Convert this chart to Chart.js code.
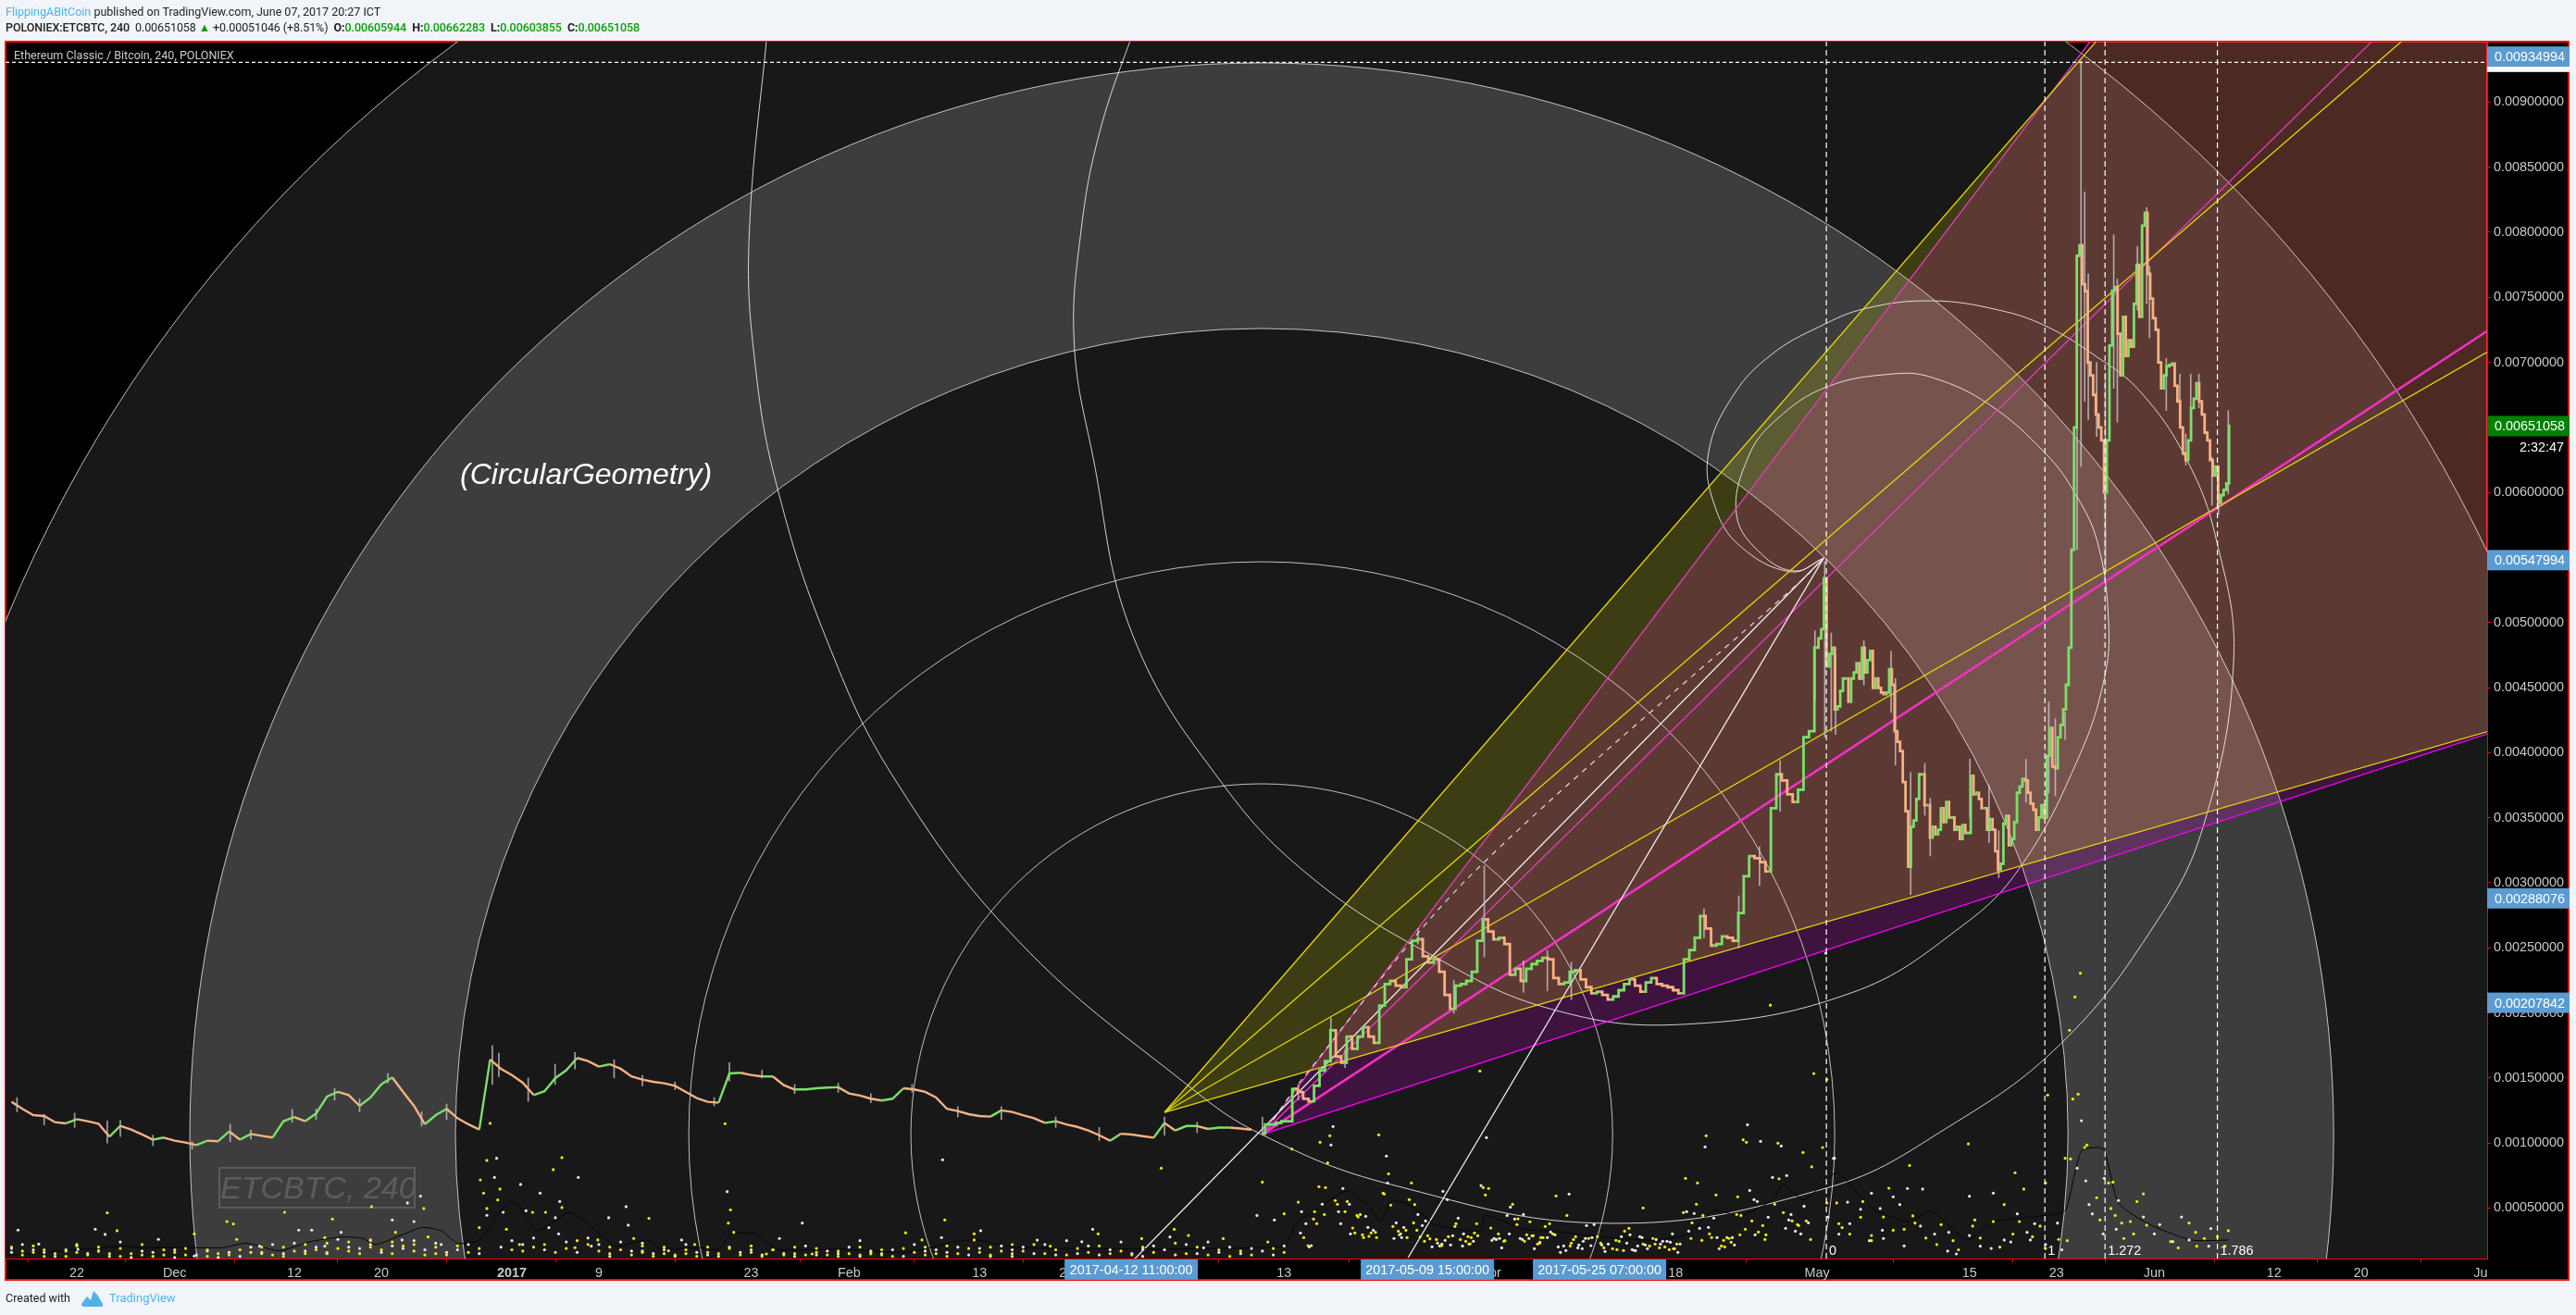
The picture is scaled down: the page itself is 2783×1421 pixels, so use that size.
<!DOCTYPE html>
<html lang="en">
<head>
<meta charset="UTF-8">
<title>ETCBTC, 240</title>
<script src="https://cdn.jsdelivr.net/npm/chart.js"></script>
<style>
    html, body { margin: 0; padding: 0; width: 2783px; height: 1421px; overflow: hidden; background: #f1f4f8; font-family: "Liberation Sans", Arial, sans-serif; }
    .abs { position: absolute; white-space: nowrap; }
    #frame { left: 5px; top: 44px; width: 2771px; height: 1340px; box-sizing: border-box; border: 2px solid #f00; background: #000; }
    canvas { position: absolute; left: 0; top: 0; }
    .head { font-family: Roboto, sans-serif; font-size: 12.5px; color: #222; }
    .blue { color: #4db3e8; }
    .grn { color: #0aa00a; }
</style>
</head>
<body>
<div id="frame" class="abs"></div>
<canvas id="graficoEtc" width="2783" height="1421"></canvas>

<div class="abs head" style="left:6px;top:5px"><span class="blue">FlippingABitCoin</span> published on TradingView.com, June 07, 2017 20:27 ICT</div>
<div class="abs head" style="left:6px;top:22px;font-weight:500;letter-spacing:-.08px">POLONIEX:ETCBTC, 240 &nbsp;<span style="font-weight:400">0.00651058 <span class="grn">&#9650;</span> +0.00051046 (+8.51%)</span> &nbsp;<b>O:</b><span class="grn">0.00605944</span> &nbsp;<b>H:</b><span class="grn">0.00662283</span> &nbsp;<b>L:</b><span class="grn">0.00603855</span> &nbsp;<b>C:</b><span class="grn">0.00651058</span></div>
<div class="abs" style="left:15px;top:52px;font:12.5px Roboto,sans-serif;color:#ccc">Ethereum Classic / Bitcoin, 240, POLONIEX</div>
<div class="abs" style="left:497px;top:494px;font:italic 32px 'Liberation Sans';color:#fff">(CircularGeometry)</div>
<div class="abs" style="left:236px;top:1261px;width:213px;height:45px;box-sizing:border-box;border:2px solid rgba(255,255,255,.16);font:italic 34px/41px 'Liberation Sans';color:rgba(255,255,255,.16);text-align:center;overflow:hidden">ETCBTC, 240</div>
<div class="abs" style="left:6px;top:1395px;font:12.5px Roboto,sans-serif;color:#222">Created with</div>
<svg class="abs" style="left:88px;top:1394px" width="24" height="18" viewBox="0 0 24 18"><path d="M0 15 L6 7 L10 11 L13 1 L17 5 L23 15 Q24 18 21 18 L3 18 Q0 18 0 15Z" fill="#4db3e8"/></svg>
<div class="abs blue" style="left:118px;top:1395px;font:13px Roboto,sans-serif">TradingView</div>

<script>
    // prices are kept in units of 0.00001 BTC, x is days since 2017-01-01
    const UNIDADE = 1e-5;

    // closes: one a day from day -46, two a day from day 69, four a day from day 120
    const fechamentosDia = [131.7,126.3,121.5,120.8,116,115.1,118.4,116.8,114.9,104.9,113.2,110.4,106.6,102.6,104.2,101.8,100.4,98.5,101.8,101.4,109,102.6,107,105.6,104.2,116.8,119.9,116.8,122.7,135.7,139.3,136.9,128.6,135,145.2,150.4,139.3,128.6,114.4,121.5,126.3,119.1,114.4,110.4,164.2,157.1,152.3,146.4,136.9,139.8,150,155.9,165.4,163,158.7,160.6,157.1,151.2,148.8,147.1,145.9,144,139.3,134.6,131.7,131,153.5,154,152.3,151.2,151.2,144.5,141.2,141.2,142.1,142.6,142.9,138.1,136.5,134.1,132.7,134.1,142.1,141.2,139.3,135,126.3,124.6,122.2,120.8,120.3,125.1,123.9,121.4,119.1,115.5,116.7,114.3,112.4,109.6,106,101.8,107.2,106.5,105.3,104.1,115.5,109.6,113.1,113.1,110.8,111.9,111.9,111.2,110.3];
    const fechamentosMeioDia = [107.2,114.3,114.3,115.5,116.7,116.7,141.6,139.2,134,132.1,144,155.8,162.9,186.6,166.5,161.7,181.9,172.4,181.9,189,181.9,177.1,205.6,222.2,224.6,221,219.8,241.2,255.4,256.6,243.5,238.8,241.2,231.7,213.9,203.2,221,222.2,224.6,231.7,255.4,272,262.5,256.6,257.8,253,229.3,234,224.6,234,237.6,240,242.3,241.2,226.9,222.2,223.4,231.7,232.9,225.7,219.8,215.1,216.3,213.9,210.3,212.7,217.5,222.2,225.7,221,216.3,223.4,226.9,222.2,221,219.8,217.5,215.1,241.2,248.3,257.8,274.4,264.9,251.8,253,258.9,257.8,255.4,276.8,305,320.6,319,315.9,308.8,357.4,383.4,378.7,368,362.1,371.6,411.9,416.6];
    const fechamentosQuarto = [480.7,487.8,494.9,534,466.4,475.9,480.7,433.2,435.6,447.5,457,457,439.2,457,461.7,468.8,457,480.7,461.7,471.2,478.3,449.8,457,449.8,446.3,445.1,446.3,464.1,452.2,416.6,408.3,401.2,377.5,355,312.3,343.1,347.9,364.5,383.4,383.4,359.7,359.7,334.8,343.1,337.2,340.8,357.4,346.7,362.1,350.2,350.2,340.8,343.1,333.7,344.3,338.4,338.4,382.3,368,369.2,364.5,357.4,357.4,340.8,349,340.8,324.2,309.9,314.7,345.5,351.4,328.9,333.7,346.7,369.2,374,379.9,378.7,369.2,360.9,356.2,340.8,350.2,359.7,350.2,397.7,419,389.4,388.2,411.9,421.4,433.2,452.2,480.7,556,650,782,790,760,754.7,700,690,675,660,650,640,600,640,713,755,758,722,690,735,705,717,712,745,775,735,805,815,768,749,734,725,700,680,690,697,698,699,682,670,650,630,625,640,665,672,684,670,660,646,640,625,613,620,592,598,602,607,651];

    // the wicks that stand out
    const pavioDias = [-45.5,-43,-40.2,-37.2,-36,-33,-29.4,-25.9,-24,-20.2,-18,-16.3,-14,-11.4,-8.3,-6,-1.8,-1.2,1.5,3.97,5.8,9.4,12,15,18.6,20,23,26,30,33,36.8,41,45,50,54,60,63,69,72.3,75.3,76.6,83.3,86.6,89.4,93,95.2,97.4,109.6,112.8,114.7,116.6,119.8,120.7,121.3,121.7,124.3,126.8,127.2,128.6,129.9,130.4,134.05,135.8,136.7,139.2,141.3,141.9,142.8,143.9,144.26,144.6,144.93,145.7,146.5,147.27,147.6,149.45,150.3,150.56,152.1,153.35,153.9,154.35,155.1,156.3,156.9,157.8];
    const pavioAltos = [135,122,123,117,117.5,106,101,114.4,110,126,126,142,134,153.5,124,130,174.9,169,150,160.6,169.6,164,152,147,135,161.8,156,145,146,138,145,128,128,120,112,120,116,120,145,196,172,265,225,313,240,248,239,280,290,327.7,394,493.7,547,492,476,486,478,457,385,391.8,365,395,375,340,395,439,426,431,727,931.6,831,768,700,692,798,764,789,819,774,703,691,645,691,691,627,620,663];
    const pavioBaixos = [124,114,112,100,105,98,95.4,101,103,116,118,133,124,146,113,118,145,151,132,145,157,150,144,141,128.6,147.6,150,138,139,131,139,120,118,112,102,106,108,106,133,163,158,253,199.7,243,216,217,210,258,250,298,355,440,412,416.6,414,452,431,390.5,291,352,320.6,350,331,304,362,369,366.8,410,556,620,670,656,643,537,680,654,740,745,719,663,656,621,654,665,590,583,599];

    // volume average at the bottom (thin dark line)
    const mediaDias = [-46.5,-35.8,-34,-29.2,-26.5,-24.4,-21.4,-18.5,-15.5,-13.7,-12.5,-8.3,-6.5,-5,-3,-0.4,0.5,2.3,5.3,7.1,9.5,12.5,13.7,17.3,19,20.2,22.3,24.4,30.4,36.4,40.7,42.8,46.5,71,72,74.4,76.8,78.8,79.8,80.8,82.2,84.2,84.7,89,89.5,93,95.4,100.3,105.2,108.1,110.5,113,115.9,116.9,118.8,121.8,123.3,125.2,128.5,130.5,133.8,136.2,139.6,142,142.9,144.3,146.3,147.7,150.6,154.4,157.8];
    const mediaValores = [13.6,20.8,19.6,19.6,19.6,23.1,17.2,24.3,27.9,26.7,22,35,32.6,23,25.5,54.4,53.9,32.6,46.8,37.4,20.8,25.5,18.4,19.6,18.4,30.2,30.2,18.4,18.4,16,24.3,25.5,19.6,20.7,37.3,51.5,63.4,51.5,39.6,55,53.9,42,37.3,32.5,44.4,33.7,32.5,27.8,25.4,30.2,48,44.4,56.2,68,56.2,77.6,65.8,49,39.7,48,25.5,39.7,43,45.6,49,94,95.4,54,37.3,25.5,25.5];

    // dots of the lower indicator
    const pontosAmarelosX = [-37.2,-36.3,-20.9,-16.5,-26.2,-25.6,-12.9,-8.1,-2,-2.3,4.6,3.8,-2.9,-1.1,-2.6,-1.3,-2.3,-0.5,1.9,3.1,4.6,12.6,19.6,20.1,19.9,20.4,36.2,39.8,42.5,-29.2,-25.3,-17.2,-10.7,-7.7,-3,0.7,5.8,7.9,11.2,14.4,16.8,23.4,27.6,33,37.7,42.5,
        -45,-44,-43,-42,-41,-40,-39,-38,-37,-36,-35,-34,-33,-32,-31,-30,-28,-27,-26,-24,-23,-22,-21,-20,-19,-18,-17,-16,-15,-14,-13,-12,-11,-10,-9,-8,-7,-6,8,9,11,12,13,14,15,16,17,18,19,21,22,23,25,26,27,28,29,30,31,32,33,34,35,37,38,39,40,41,43,44,45,46,
        -46,-45,-44,-43,-41,-40,-38,-36,-34,-32,-30,-28,-25,-23,-21,-19,-17,-15,-13,-11,-9,-7,-5,-4,-3,0,1,2,3,4,5,6,7,9,10,12,14,16,18,20,22,24,26,28,30,32,34,36,38,40,42,44,46,47,48,49,50,51,52,53,54,55,56,57,58,59,61,62,63,64,65,66,67,68,70,71,
        59.7,71.7,69,71,69.5,60.9,53.9,49.5,57.9,62.2,65.4,
        72.3,74.3,75.2,79.7,75,74.2,74.8,73.8,74.7,73.7,74,72.8,73.2,75.7,75.9,76.6,76.8,77.7,78,77.8,77.3,77.5,78.2,78.3,78.8,79,79.4,79.5,80.1,80.2,80.6,82.7,82.5,83,80.8,81,81.5,82.2,81.6,82.3,82.9,83.2,83.5,83.9,84.2,84.4,85,85.5,86.1,86.7,86.8,87.2,87.7,87.9,88.2,88.1,88.7,88.8,88.5,90,90.7,91.2,91.3,92,89.3,89.8,89.5,96,97,92.4,92.5,93.6,93.3,93.9,93.1,94.6,94.8,94.5,94.3,95,95.4,95.7,97.8,97.6,97.4,97.3,99,99.8,100.1,100.4,101.2,101.6,102.2,101.8,101.5,102.3,102.7,104,107.9,109,110.7,112.7,109.8,113.2,113.5,116.4,118.7,119.5,116.5,116.1,116.9,114,113.4,114.6,115,115.3,115.2,112.9,113,112.6,111.7,111.9,111.4,112.1,111.2,111.5,110.3,110.1,109.4,108.4,108.5,107.7,108.9,109.5,117.7,118.2,118.3,119,119.4,104.9,104.6,105.5,106,106.4,106.9,107.1,105.1,104,
        89,115.7,119.7,120.9,120.5,128.5,133.9,138.2,139,126.6,141,141.2,144.2,143.7,143.2,143.5,144,142.8,143.3,144.6,144.8,146.8,147.2,145.7,146,149.4,150,147,147.4,148,148.8,150.3,154.2,154.8,155.6,156.8,157.8,157.5,154.9,153.2,152.5,149.1,148.2,128,129,131.4,134.3,136.2,137.2,138.6,140.5,142.2,134.5,122.3,124.2,121.8,120.9,125,126.1,122,123,124,125,127,128.8,130,131,132.5,133,135,136.8,138,139.8,141,143];
    const pontosAmarelosY = [46.4,32.6,46.8,41.6,39.7,37.8,51.1,49.7,115.1,86.7,88.8,79.6,71.7,64.6,61.5,56.3,49.7,33.8,46.8,46.8,50.4,42.1,114.9,48.7,38.5,31.4,31,40.9,30.2,30.2,26,27.4,31.4,27.9,35,22,19.6,25.5,26.7,17.2,22,14.8,14.8,14.8,25.5,25.5,
        14,16,13,15,13,16,14,17,15,13,15,14,13,14,16,14,13,15,14,16,15,14,13,17,15,18,16,19,17,15,20,18,15,21,17,14,15,14,17,15,14,16,13,15,14,15,13,16,15,14,16,13,14,15,14,16,14,13,15,14,16,14,13,16,14,15,13,15,16,14,17,15,
        20,17,21,18,17,21,20,19,22,18,19,18,18,20,20,22,23,24,25,24,22,20,21,16,19,18,17,20,22,16,19,25,22,20,18,21,20,18,20,19,21,18,20,19,17,20,18,19,20,21,19,20,22,17,22,15,18,14,19,16,21,15,17,14,20,16,23,15,20,14,18,13,17,14,19,16,
        80.7,95.4,70,45.6,24,33.7,30.2,20.7,26.6,29,26.6,
        54.6,100.6,105.6,106.3,84.7,66.5,65.8,47.3,45.1,41.6,38,27.4,21.2,55.8,53,47.3,55.1,44.4,45.1,43.2,34.7,30.9,29.5,27.4,28.3,30.9,31.4,27.4,61.5,60.8,76.4,69.3,56.5,52.7,52.3,35.9,32.3,33,29.5,27.4,38.7,33,27.8,24.5,28.8,26.4,25.9,21.2,28.1,35.9,38,25.9,24.5,28.1,27.4,22.6,38,28.8,30.9,34.7,30.2,24.5,25,53,65.8,65.1,60.1,59.4,44.4,37.3,41.8,39.5,29.5,28.8,24.5,27.4,27.4,23.1,22.4,35.9,38,30.2,28.1,25.9,23.1,20.9,26.7,28.1,23.1,19.5,18.8,18.1,17.4,24.5,25.2,32.3,34.5,50.1,72.9,69.3,60.1,58.7,105.6,102.5,100.6,99.9,92.8,81.7,72.6,53,46.6,40.2,33.8,31.6,36.6,29.5,25.9,29.5,44.4,45.1,27.4,26.7,25.2,23.8,20.9,20.2,27.4,30.2,25.2,26.7,38.7,46.6,53,44.4,40.2,37.3,36.6,40.2,25.9,26.7,20.9,19.5,20.2,18.1,18.8,22.4,22.4,22.4,
        155.3,206,153.4,148.8,96.6,82.8,99.4,77.2,64.6,65.3,69.3,136.9,230.5,212.3,186.7,133.8,137.6,88.3,87.8,96.6,98.5,69.3,70,58,40.9,55,61,49.7,44.4,38.5,39.7,36.9,38.5,31.4,26.7,27.9,32.6,20.7,20.7,19.5,24.3,30.2,26.7,33.8,38.5,37.3,36.2,39.7,52.7,39.7,36.2,26,40.9,35,55,54,54,29,43.2,38,30,43,25,33,44,27,22,25,18,27,20,30,28,19,25];
    const pontosBrancosX = [-45.4,-38.3,-37.4,-32.5,-43.5,-39.9,-19.6,-18.4,-11,-9,-9.6,-8.4,-1.4,-1.6,0.8,2.6,6.1,-2.3,-0.8,1.3,4.4,4,3.4,4.3,8.9,10.5,10.7,19.8,26.7,39.6,32,43.1,24.6,39.5,12,7.3,15.6,-6.5,-10.1,-13,-15.7,-17.2,-23.2,-29.2,
        -46,-44,-42,-41,-39,-37,-35,-33,-31,-29,-27,-25,-23,-21,-19,-17,-14,-12,-8,-6,9,11,13,15,17,19,21,23,24,26,28,30,32,34,36,38,40,42,44,46,
        -46,-45,-43,-40,-38,-36,-34,-31,-28,-26,-24,-22,-20,-18,-16,-15,-13,-11,-10,-9,-7,-5,-4,-3,-1,0,1,2,3,5,6,7,8,10,12,14,16,18,20,22,25,27,29,31,33,35,37,39,41,43,45,46,47,48,49,50,51,52,53,54,55,56,57,58,59,60,61,62,63,64,65,66,67,68,69,70,71,
        68.5,70.1,63.6,60.5,53.4,48.3,52.4,58,
        75.5,75.3,76.4,74.5,72.6,73,72.5,73.3,73.5,76,76.2,77.1,77,78.5,78.7,79.2,80.4,80.5,81.3,82,81.7,81.1,81.8,83.3,83.7,84,85.6,86,87,86.5,87.5,88,88.4,85.8,85.1,85.3,85.5,84.6,86.3,87.4,89.1,89.6,91.8,91.5,92.2,93,91.7,90.8,90.3,90.5,90.1,91,92.7,92.9,93.5,93.8,94.5,94,95.2,95.5,95.9,97.2,96.2,96.7,96.4,96.9,98,98.1,98.4,98.5,98.7,99.3,98.8,99.5,99.2,100.2,100.5,100.8,102,102.5,102.8,103.7,103.9,103,103.2,103.3,103.5,104.2,104.4,105.2,105.6,105.8,106.2,106.7,106.8,107.2,106.5,107.4,108.2,108,108.7,109.7,110.5,110,109.2,110.8,112.2,112.4,111,113.6,114.8,116.7,115.9,117.2,113.8,114.2,114.5,115.5,114.3,117.4,117.6,117.1,118,118.5,119.2,118.8,
        121.5,120.8,121.6,134,128.3,129.7,136.2,144.3,143.9,144.7,146.4,147.7,153.5,150,145,145.3,146.3,147.5,151,151.5,152.7,154.2,156,156.2,125,127,125.8,124,122.8,126.1,129.5,132.1,132.8,135,137.2,139.3,139.6,142.1,127.6,138.4,121,122,123,124.8,126,128,130.8,132,134,136,137.8,140,141,142.5];
    const pontosBrancosY = [33.1,33.8,29.8,26,22.4,18.4,33.1,33.1,40.9,39.7,54,59.2,88.3,73.6,68.2,61.5,73.6,44.5,46.8,48,55.1,42.6,35,30.2,42.6,51.1,36.9,62.7,38.5,87.1,25,32.6,26.7,27.4,23.1,20.8,25.5,22,25.5,25.5,31.4,20.8,20.8,13.2,
        16,18,13,18,15,13,12,16,12,14,12,13,16,15,17,15,19,16,18,16,13,17,15,13,16,13,16,14,18,13,14,15,13,15,13,17,16,14,13,13,
        19,22,16,22,17,24,17,18,17,16,20,22,23,20,26,20,22,21,19,25,23,18,22,15,20,25,22,27,18,24,16,27,22,24,17,18,22,14,20,18,15,21,17,20,17,18,22,18,20,19,21,18,20,15,22,14,25,15,21,14,18,24,15,13,21,18,14,22,15,24,16,20,15,19,17,14,21,
        44.4,40.8,19.5,27.8,33.7,25.4,24.2,18.3,
        112.7,98.5,65.1,53,47.3,38,30.9,20.2,21.2,47.3,38,30.2,53,43.7,35.2,33,90,69.3,38.7,35.2,30.2,26.7,27.4,45.1,36.6,40.2,62.9,56.5,42.3,28.8,30.2,22.4,24.5,25.2,23.1,20.9,22.4,20.2,21.7,20.9,67.4,104.2,50.8,44.4,41.6,45.1,30.2,26.7,26.7,25.9,25.2,19.5,26.7,25.9,26.7,28.8,23.8,18.8,27.4,31.6,29.5,60.8,20.2,20.9,16,17.4,19.5,21.7,18.8,24.5,26.7,27.4,36.6,37.3,21.2,21.7,16.7,22.4,28.1,23.1,29.5,28.1,27.4,18.1,17.4,17.4,20.9,21.7,18.8,25.9,22.4,24.5,24.5,30.2,18.8,16,23.8,22.4,32.3,47.3,45.9,97.1,42.3,35.2,34.5,27.4,27.4,21.7,18.8,114.1,101.3,97.8,73.6,75,63.6,56.5,55.1,43,29.5,40.9,45.1,34.5,32.3,30.2,38.7,51.5,
        88.2,245.9,88.3,59.1,65.1,64.6,61.5,117.2,80.7,71,72.9,55.8,43.2,43.2,52.7,45.6,30.2,33.8,30.2,37.3,24.3,25.5,20.7,34.3,61.5,58.7,49.7,49.1,54.6,26.7,36.2,31.4,14.8,20.7,25.5,31.4,25.5,38.5,52.7,45.6,43,30,38,25,33,21,30,17,29,19,24,38,22,18];

    // drawing tools, anchors in days and price units
    const centroCirculo = [68.94, 106.5];
    const raiosCirculo = [32.26, 52.68, 74.13, 98.55, 124.77];
    const origemAmarela = [60, 123.6];
    const fimAmarelos = [[182, 1296], [182, 1006.5], [182, 709.8], [182, 417.2]];
    const fimMagentas = [[182, 1353.6], [182, 1037.2], [182, 726.3], [182, 415.5]];
    const larguraMagentas = [1.3, 1.3, 2.6, 1.4];
    const corMagentas = ['#e63cc0', '#e63cc0', '#f72fc8', '#f0f'];
    const topoFan = [120.6, 549.6];
    const retaBrancaA = [[57.2, 10.5], topoFan];
    const retaBrancaB = [[82.4, 11.95], topoFan];
    const curvaTracejada = [[70, 118], [72.4, 146.4], [87.8, 302.8], [118.6, 532.6], topoFan];
    const espiralA = [topoFan,[117.6,539],[112.9,559],[110.6,589.4],[110,630],[112.3,674.8],[115.8,706],[120.2,727.4],[124.5,741.5],[130.6,747.3],[136.7,740.2],[141,728],[145.4,706],[149.7,677.6],[154,625],[156.7,563.9],[158.3,471.4],[155.5,343.4],[151,267.3],[142.4,176.3],[132,112],[121.1,66],[101,38.3],[80.8,68.2],[68.94,106.5],[62.2,144],[46.6,255],[35.1,381],[28.9,487.8],[24.4,603.7],[22.4,696],[21.8,794],[23.6,965]];
    const espiralB = [topoFan,[118,539.7],[115,551.8],[112.6,582.3],[113.7,627.9],[116.3,656.3],[120.9,681.2],[127.1,691.2],[130.6,688.3],[135.8,667.7],[141,630],[143.7,599.5],[145.8,561],[146.8,499.8],[146.4,457],[144.1,397.4],[138.8,313.5],[133.4,267.3],[123.1,215.3],[107.6,191.2],[95.4,203.3],[84.7,243.8],[73.7,302.9],[65.4,375.4],[57.1,489.9],[53.4,628.5],[51.7,714],[52.3,799.3],[54.1,878.9],[57.6,965]];
    const fibDias = [120.85, 140.94, 146.47, 156.8];
    const fibRotulos = ['0', '1', '1.272', '1.786'];
    const linhaTopo = 930.6;

    // axes
    const minX = -46.55, maxX = 181.6;
    const minY = 11.24 * UNIDADE, maxY = 946.5 * UNIDADE;
    const xTicks = [-40,-31,-20,-12,0,8,22,31,43,51,59,71,83,90,98,107,120,134,142,151,162,170,181];
    const xRotulos = ['22','Dec','12','20','2017','9','23','Feb','13','21','Mar','13','25','Apr','9','18','May','15','23','Jun','12','20','Ju'];
    const yTicks = [0.0005,0.001,0.0015,0.002,0.0025,0.003,0.0035,0.004,0.0045,0.005,0.0055,0.006,0.0065,0.007,0.0075,0.008,0.0085,0.009];

    // tags
    const tagsAzuis = [0.00547994, 0.00288076, 0.00207842];
    const tagTopo = 0.00934994;
    const tagEscondida = 0.00931000;
    const tagUltimo = 0.00651058;
    const contagem = '2:32:47';
    const tagDias = [56.94, 84.17, 100];
    const tagDatas = ['2017-04-12 11:00:00', '2017-05-09 15:00:00', '2017-05-25 07:00:00'];

    const pt = (p) => ({ x: p[0], y: p[1] * UNIDADE });
    const serieDia = fechamentosDia.map((v, i) => ({ x: -46 + i, y: v * UNIDADE }));
    const serieResto = [];
    fechamentosMeioDia.forEach((v, i) => serieResto.push({ x: 69 + i * 0.5, y: v * UNIDADE }));
    fechamentosQuarto.forEach((v, i) => serieResto.push({ x: 120 + i * 0.25, y: v * UNIDADE }));

    const fonte = '14.4px "Liberation Sans"';
    const corAlta = '#7be06a', corBaixa = '#f7b183';
    const corVela = { borderColor: c => c.p1.parsed.y >= c.p0.parsed.y ? corAlta : corBaixa };

    function linha(pontos, cor, largura, ordem, extra) {
        return Object.assign({
            type: 'line', data: pontos.map(pt), borderColor: cor, borderWidth: largura,
            pointRadius: 0, fill: false, order: ordem
        }, extra || {});
    }

    const datasets = [];
    datasets.push(linha(espiralA, 'rgba(255,255,255,.8)', 1, 9, { tension: 0.4, capBezierPoints: false }));
    datasets.push(linha(espiralB, 'rgba(255,255,255,.8)', 1, 9, { tension: 0.4, capBezierPoints: false }));
    fimAmarelos.forEach(f => datasets.push(linha([origemAmarela, f], '#e6d800', 1.3, 8)));
    fimMagentas.forEach((f, i) => datasets.push(linha([centroCirculo, f], corMagentas[i], larguraMagentas[i], 8)));
    datasets.push(linha(retaBrancaA, '#eee', 1.3, 7));
    datasets.push(linha(retaBrancaB, '#eee', 1.3, 7));
    datasets.push(linha(curvaTracejada, '#ddd', 1.2, 7, { borderDash: [6, 6], tension: 0.3 }));
    datasets.push({ type: 'line', data: mediaDias.map((d, i) => ({ x: d, y: mediaValores[i] * UNIDADE })), borderColor: '#050505', borderWidth: 1, pointRadius: 0, tension: 0.2, order: 6 });
    datasets.push({ type: 'line', data: pontosAmarelosX.map((d, i) => ({ x: d, y: pontosAmarelosY[i] * UNIDADE })), showLine: false, pointRadius: 1.6, pointBorderWidth: 0, pointBackgroundColor: '#f5ea10', order: 5 });
    datasets.push({ type: 'line', data: pontosBrancosX.map((d, i) => ({ x: d, y: pontosBrancosY[i] * UNIDADE })), showLine: false, pointRadius: 1.6, pointBorderWidth: 0, pointBackgroundColor: '#e8e8e8', order: 5 });
    datasets.push({ type: 'bar', data: pavioDias.map((d, i) => ({ x: d, y: [pavioBaixos[i] * UNIDADE, pavioAltos[i] * UNIDADE] })), backgroundColor: 'rgba(205,205,205,.75)', borderWidth: 0, barThickness: 1, order: 4 });
    datasets.push({ type: 'line', data: serieDia, borderWidth: 2.4, pointRadius: 0, order: 3, borderColor: corAlta, segment: corVela });
    datasets.push({ type: 'line', data: serieResto, stepped: 'middle', borderWidth: 2.8, pointRadius: 0, order: 3, borderJoinStyle: 'miter', borderColor: corAlta, segment: corVela });
    fibDias.forEach(d => datasets.push({ type: 'line', data: [{ x: d, y: minY }, { x: d, y: maxY }], borderColor: '#fff', borderWidth: 1.2, borderDash: [6, 4], pointRadius: 0, order: 2 }));
    datasets.push({ type: 'line', data: [{ x: minX, y: linhaTopo * UNIDADE }, { x: maxX, y: linhaTopo * UNIDADE }], borderColor: '#fff', borderWidth: 1.2, borderDash: [4, 3], pointRadius: 0, order: 2 });

    const desenhos = {
        id: 'desenhos',
        beforeDatasetsDraw(chart) {
            const { ctx, chartArea: a, scales: { x, y } } = chart;
            const px = p => [x.getPixelForValue(p[0]), y.getPixelForValue(p[1] * UNIDADE)];
            ctx.save();
            ctx.beginPath();
            ctx.rect(a.left, a.top, a.right - a.left, a.bottom - a.top);
            ctx.clip();
            const c = px(centroCirculo);
            const raioPx = r => x.getPixelForValue(centroCirculo[0] + r) - c[0];
            // bands of the circle set, outer ring first
            [[4, '#181818'], [3, '#3d3d3d'], [2, '#181818']].forEach(([i, cor]) => {
                ctx.fillStyle = cor;
                ctx.beginPath();
                ctx.arc(c[0], c[1], raioPx(raiosCirculo[i]), 0, Math.PI * 2);
                ctx.fill();
            });
            // the two fans, magenta first so the overlap goes brown
            const leque = (orig, fins, cor) => {
                const o = px(orig), p1 = px(fins[0]), p2 = px(fins[fins.length - 1]);
                ctx.fillStyle = cor;
                ctx.beginPath();
                ctx.moveTo(o[0], o[1]);
                ctx.lineTo(p1[0], p1[1]);
                ctx.lineTo(p2[0], p2[1]);
                ctx.closePath();
                ctx.fill();
            };
            leque(centroCirculo, fimMagentas, 'rgba(255,6,255,.17)');
            leque(origemAmarela, fimAmarelos, 'rgba(255,255,0,.16)');
            ctx.strokeStyle = 'rgba(255,255,255,.72)';
            ctx.lineWidth = 1;
            raiosCirculo.forEach(r => {
                ctx.beginPath();
                ctx.arc(c[0], c[1], raioPx(r), 0, Math.PI * 2);
                ctx.stroke();
            });
            ctx.restore();
        },
        afterDraw(chart) {
            const { ctx, chartArea: a, scales: { x, y } } = chart;
            const esq = a.right, larg = 89;
            ctx.save();
            ctx.font = fonte;
            ctx.textBaseline = 'middle';
            ctx.textAlign = 'left';
            const tag = (valor, fundo, cor) => {
                const py = y.getPixelForValue(valor);
                ctx.fillStyle = fundo;
                ctx.fillRect(esq, py - 11, larg, 22);
                ctx.fillStyle = cor;
                ctx.fillText(valor.toFixed(8), esq + 8, py + 1);
            };
            tag(tagEscondida, '#fff', '#333');
            tag(tagTopo, '#5b9bd1', '#fff');
            tagsAzuis.forEach(v => tag(v, '#5b9bd1', '#fff'));
            tag(tagUltimo, '#008000', '#fff');
            ctx.fillStyle = '#fff';
            ctx.textAlign = 'right';
            ctx.fillText(contagem, esq + 83, y.getPixelForValue(tagUltimo) + 24);
            // date tags on the time axis
            ctx.textAlign = 'center';
            tagDias.forEach((d, i) => {
                const px = x.getPixelForValue(d);
                ctx.fillStyle = '#5b9bd1';
                ctx.fillRect(px - 72, a.bottom + 1, 144, 22);
                ctx.fillStyle = '#fff';
                ctx.fillText(tagDatas[i], px, a.bottom + 13);
            });
            // fib time zone labels
            ctx.textAlign = 'left';
            fibDias.forEach((d, i) => {
                ctx.fillStyle = '#fff';
                ctx.fillText(fibRotulos[i], x.getPixelForValue(d) + 3, a.bottom - 8);
            });
            ctx.restore();
        }
    };

    new Chart(document.getElementById('graficoEtc').getContext('2d'), {
        type: 'line',
        data: { datasets },
        plugins: [desenhos],
        options: {
            responsive: false,
            animation: false,
            events: [],
            layout: { padding: { left: 6, top: 45, right: 7, bottom: 37 } },
            plugins: { legend: { display: false }, tooltip: { enabled: false } },
            scales: {
                x: {
                    type: 'linear', min: minX, max: maxX, offset: false,
                    afterBuildTicks(s) { s.ticks = xTicks.map(v => ({ value: v })); },
                    afterFit(s) { s.height = 24; },
                    grid: { drawOnChartArea: false, color: '#f00', tickColor: '#f00', tickLength: 4 },
                    border: { color: '#f00', width: 2 },
                    ticks: {
                        autoSkip: false, maxRotation: 0, minRotation: 0, padding: 3, color: '#c8c8c8',
                        font: c => ({ family: 'Liberation Sans', size: 14.4, weight: xRotulos[c.index] === '2017' ? 'bold' : 'normal' }),
                        callback: (v, i) => xRotulos[i]
                    }
                },
                y: {
                    type: 'linear', position: 'right', min: minY, max: maxY,
                    afterBuildTicks(s) { s.ticks = yTicks.map(v => ({ value: v })); },
                    afterFit(s) { s.width = 89; },
                    grid: { drawOnChartArea: false, color: '#f00', tickColor: '#f00', tickLength: 4 },
                    border: { color: '#f00', width: 2 },
                    ticks: {
                        padding: 3, color: '#c8c8c8', autoSkip: false,
                        font: { family: 'Liberation Sans', size: 14.4 },
                        callback: v => v.toFixed(8)
                    }
                }
            }
        }
    });
</script>
</body>
</html>
